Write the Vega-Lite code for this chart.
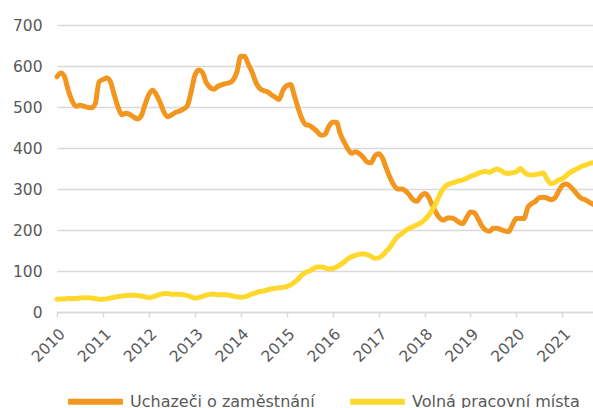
{
  "$schema": "https://vega.github.io/schema/vega-lite/v6.json",
  "width": 536,
  "height": 287,
  "autosize": {"type": "none"},
  "padding": {"left": 57, "top": 25, "right": 0, "bottom": 96},
  "background": "white",
  "config": {"view": {"stroke": null}, "font": "DejaVu Sans"},
  "data": {"values": [
    {"d":"2010-01-01T00:00","u":574,"v":31},{"d":"2010-02-01T00:00","u":583,"v":32},{"d":"2010-03-01T00:00","u":574,"v":32},{"d":"2010-04-01T00:00","u":540,"v":33},{"d":"2010-05-01T00:00","u":515,"v":33},{"d":"2010-06-01T00:00","u":502,"v":33},{"d":"2010-07-01T00:00","u":504,"v":34},{"d":"2010-08-01T00:00","u":502,"v":35},{"d":"2010-09-01T00:00","u":499,"v":35},{"d":"2010-10-01T00:00","u":498,"v":34},{"d":"2010-11-01T00:00","u":508,"v":33},{"d":"2010-12-01T00:00","u":561,"v":31},
    {"d":"2011-01-01T00:00","u":567,"v":31},{"d":"2011-02-01T00:00","u":571,"v":32},{"d":"2011-03-01T00:00","u":562,"v":34},{"d":"2011-04-01T00:00","u":530,"v":36},{"d":"2011-05-01T00:00","u":500,"v":38},{"d":"2011-06-01T00:00","u":481,"v":39},{"d":"2011-07-01T00:00","u":485,"v":40},{"d":"2011-08-01T00:00","u":482,"v":41},{"d":"2011-09-01T00:00","u":476,"v":41},{"d":"2011-10-01T00:00","u":471,"v":40},{"d":"2011-11-01T00:00","u":478,"v":39},{"d":"2011-12-01T00:00","u":505,"v":37},
    {"d":"2012-01-01T00:00","u":530,"v":35},{"d":"2012-02-01T00:00","u":541,"v":37},{"d":"2012-03-01T00:00","u":530,"v":40},{"d":"2012-04-01T00:00","u":510,"v":43},{"d":"2012-05-01T00:00","u":487,"v":45},{"d":"2012-06-01T00:00","u":476,"v":45},{"d":"2012-07-01T00:00","u":481,"v":43},{"d":"2012-08-01T00:00","u":487,"v":43},{"d":"2012-09-01T00:00","u":490,"v":43},{"d":"2012-10-01T00:00","u":495,"v":42},{"d":"2012-11-01T00:00","u":502,"v":40},{"d":"2012-12-01T00:00","u":535,"v":37},
    {"d":"2013-01-01T00:00","u":577,"v":34},{"d":"2013-02-01T00:00","u":590,"v":35},{"d":"2013-03-01T00:00","u":585,"v":38},{"d":"2013-04-01T00:00","u":560,"v":41},{"d":"2013-05-01T00:00","u":548,"v":43},{"d":"2013-06-01T00:00","u":543,"v":44},{"d":"2013-07-01T00:00","u":550,"v":42},{"d":"2013-08-01T00:00","u":554,"v":42},{"d":"2013-09-01T00:00","u":557,"v":42},{"d":"2013-10-01T00:00","u":559,"v":41},{"d":"2013-11-01T00:00","u":566,"v":39},{"d":"2013-12-01T00:00","u":585,"v":37},
    {"d":"2014-01-01T00:00","u":624,"v":36},{"d":"2014-02-01T00:00","u":623,"v":37},{"d":"2014-03-01T00:00","u":605,"v":40},{"d":"2014-04-01T00:00","u":585,"v":44},{"d":"2014-05-01T00:00","u":560,"v":47},{"d":"2014-06-01T00:00","u":545,"v":50},{"d":"2014-07-01T00:00","u":540,"v":51},{"d":"2014-08-01T00:00","u":537,"v":54},{"d":"2014-09-01T00:00","u":530,"v":56},{"d":"2014-10-01T00:00","u":524,"v":58},{"d":"2014-11-01T00:00","u":518,"v":59},{"d":"2014-12-01T00:00","u":540,"v":60},
    {"d":"2015-01-01T00:00","u":552,"v":62},{"d":"2015-02-01T00:00","u":555,"v":66},{"d":"2015-03-01T00:00","u":530,"v":72},{"d":"2015-04-01T00:00","u":498,"v":80},{"d":"2015-05-01T00:00","u":472,"v":90},{"d":"2015-06-01T00:00","u":457,"v":97},{"d":"2015-07-01T00:00","u":455,"v":100},{"d":"2015-08-01T00:00","u":448,"v":106},{"d":"2015-09-01T00:00","u":440,"v":110},{"d":"2015-10-01T00:00","u":431,"v":110},{"d":"2015-11-01T00:00","u":433,"v":108},{"d":"2015-12-01T00:00","u":452,"v":105},
    {"d":"2016-01-01T00:00","u":463,"v":106},{"d":"2016-02-01T00:00","u":463,"v":110},{"d":"2016-03-01T00:00","u":435,"v":115},{"d":"2016-04-01T00:00","u":415,"v":122},{"d":"2016-05-01T00:00","u":398,"v":130},{"d":"2016-06-01T00:00","u":387,"v":135},{"d":"2016-07-01T00:00","u":391,"v":138},{"d":"2016-08-01T00:00","u":386,"v":141},{"d":"2016-09-01T00:00","u":377,"v":142},{"d":"2016-10-01T00:00","u":366,"v":140},{"d":"2016-11-01T00:00","u":364,"v":136},{"d":"2016-12-01T00:00","u":380,"v":131},
    {"d":"2017-01-01T00:00","u":386,"v":132},{"d":"2017-02-01T00:00","u":375,"v":138},{"d":"2017-03-01T00:00","u":352,"v":148},{"d":"2017-04-01T00:00","u":328,"v":158},{"d":"2017-05-01T00:00","u":310,"v":172},{"d":"2017-06-01T00:00","u":300,"v":184},{"d":"2017-07-01T00:00","u":300,"v":190},{"d":"2017-08-01T00:00","u":296,"v":198},{"d":"2017-09-01T00:00","u":286,"v":204},{"d":"2017-10-01T00:00","u":274,"v":208},{"d":"2017-11-01T00:00","u":270,"v":213},{"d":"2017-12-01T00:00","u":282,"v":217},
    {"d":"2018-01-01T00:00","u":289,"v":225},{"d":"2018-02-01T00:00","u":281,"v":235},{"d":"2018-03-01T00:00","u":262,"v":248},{"d":"2018-04-01T00:00","u":243,"v":265},{"d":"2018-05-01T00:00","u":229,"v":285},{"d":"2018-06-01T00:00","u":224,"v":302},{"d":"2018-07-01T00:00","u":229,"v":310},{"d":"2018-08-01T00:00","u":229,"v":314},{"d":"2018-09-01T00:00","u":226,"v":317},{"d":"2018-10-01T00:00","u":219,"v":320},{"d":"2018-11-01T00:00","u":216,"v":322},{"d":"2018-12-01T00:00","u":230,"v":326},
    {"d":"2019-01-01T00:00","u":244,"v":331},{"d":"2019-02-01T00:00","u":242,"v":334},{"d":"2019-03-01T00:00","u":228,"v":338},{"d":"2019-04-01T00:00","u":210,"v":341},{"d":"2019-05-01T00:00","u":200,"v":343},{"d":"2019-06-01T00:00","u":197,"v":341},{"d":"2019-07-01T00:00","u":204,"v":345},{"d":"2019-08-01T00:00","u":204,"v":349},{"d":"2019-09-01T00:00","u":201,"v":345},{"d":"2019-10-01T00:00","u":198,"v":339},{"d":"2019-11-01T00:00","u":196,"v":338},{"d":"2019-12-01T00:00","u":213,"v":340},
    {"d":"2020-01-01T00:00","u":228,"v":342},{"d":"2020-02-01T00:00","u":228,"v":350},{"d":"2020-03-01T00:00","u":228,"v":342},{"d":"2020-04-01T00:00","u":255,"v":335},{"d":"2020-05-01T00:00","u":264,"v":334},{"d":"2020-06-01T00:00","u":270,"v":335},{"d":"2020-07-01T00:00","u":279,"v":337},{"d":"2020-08-01T00:00","u":280,"v":339},{"d":"2020-09-01T00:00","u":278,"v":324},{"d":"2020-10-01T00:00","u":274,"v":313},{"d":"2020-11-01T00:00","u":278,"v":316},{"d":"2020-12-01T00:00","u":294,"v":322},
    {"d":"2021-01-01T00:00","u":309,"v":325},{"d":"2021-02-01T00:00","u":312,"v":333},{"d":"2021-03-01T00:00","u":307,"v":340},{"d":"2021-04-01T00:00","u":297,"v":345},{"d":"2021-05-01T00:00","u":286,"v":350},{"d":"2021-06-01T00:00","u":277,"v":355},{"d":"2021-07-01T00:00","u":274,"v":358},{"d":"2021-08-01T00:00","u":268,"v":362},{"d":"2021-09-01T00:00","u":263,"v":364}
  ]},
  "encoding": {
    "x": {
      "field": "d",
      "type": "temporal",
      "scale": {"domain": [{"year": 2010, "month": 1, "date": 1}, {"year": 2021, "month": 9, "date": 1}], "nice": false},
      "axis": {
        "title": null,
        "format": "%Y",
        "tickCount": {"interval": "year", "step": 1},
        "labelAngle": -45,
        "labelFontSize": 15.5,
        "labelColor": "#595959",
        "labelFlush": false,
        "labelBound": false,
        "labelOverlap": false,
        "labelPadding": 9,
        "domainColor": "#d9d9d9",
        "domainWidth": 1.5,
        "tickColor": "#d9d9d9",
        "tickWidth": 1.5,
        "tickSize": 5,
        "grid": false
      }
    },
    "color": {
      "type": "nominal",
      "scale": {"domain": ["Uchazeči o zaměstnání", "Volná pracovní místa"], "range": ["#F29620", "#FFD82E"]},
      "legend": {
        "title": null,
        "orient": "none",
        "legendX": 8,
        "legendY": 346,
        "direction": "horizontal",
        "symbolType": "stroke",
        "symbolSize": 3000,
        "symbolStrokeWidth": 6,
        "labelFontSize": 16,
        "labelColor": "#595959",
        "labelOffset": 4,
        "labelLimit": 400,
        "columnPadding": 23,
        "padding": 0
      }
    }
  },
  "layer": [
    {
      "mark": {"type": "line", "strokeWidth": 5, "interpolate": "monotone", "strokeJoin": "round", "strokeCap": "round"},
      "encoding": {
        "y": {
          "field": "u",
          "type": "quantitative",
          "scale": {"domain": [0, 700], "nice": false},
          "axis": {
            "title": null,
            "values": [0, 100, 200, 300, 400, 500, 600, 700],
            "grid": true,
            "gridColor": "#d9d9d9",
            "gridWidth": 1.5,
            "domain": false,
            "ticks": false,
            "labelFontSize": 15.5,
            "labelColor": "#595959",
            "labelPadding": 15
          }
        },
        "color": {"datum": "Uchazeči o zaměstnání"}
      }
    },
    {
      "mark": {"type": "line", "strokeWidth": 5, "interpolate": "monotone", "strokeJoin": "round", "strokeCap": "round"},
      "encoding": {
        "y": {"field": "v", "type": "quantitative"},
        "color": {"datum": "Volná pracovní místa"}
      }
    }
  ]
}
